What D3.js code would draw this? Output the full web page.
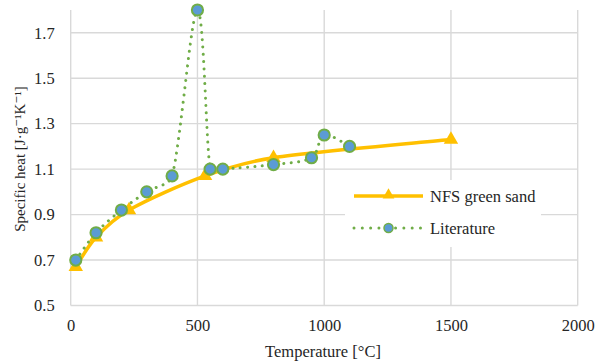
<!DOCTYPE html>
<html><head><meta charset="utf-8">
<script src="https://cdn.jsdelivr.net/npm/d3@7"></script>
<style>body{margin:0;background:#fff}svg{display:block}</style>
</head><body><svg id="c" width="597" height="362"></svg>
<script>
const nfsT = [20, 100, 230, 530, 800, 1500];
const nfsV = [0.67, 0.80, 0.92, 1.07, 1.15, 1.23];
const litT = [20, 100, 200, 300, 400, 500, 550, 600, 800, 950, 1000, 1100];
const litV = [0.70, 0.82, 0.92, 1.00, 1.07, 1.80, 1.10, 1.10, 1.12, 1.15, 1.25, 1.20];
const xTicks = [0, 500, 1000, 1500, 2000];
const yTicks = [0.5, 0.7, 0.9, 1.1, 1.3, 1.5, 1.7];
const seriesNames = ["NFS green sand", "Literature"];

const FONT = "'Liberation Serif', 'DejaVu Serif', serif";
const TXT = "#262626";
const svg = d3.select("#c");
const x = d3.scaleLinear().domain([0, 2000]).range([70.7, 577.7]);
const y = d3.scaleLinear().domain([0.5, 1.8]).range([305.5, 10]);
const grid = "#d9d9d9";

// Excel-like smoothing: Catmull-Rom handles, clamped on short segments
function SmoothCurve(context) { this._context = context; }
SmoothCurve.prototype = {
  areaStart() { this._line = 0; }, areaEnd() { this._line = NaN; },
  lineStart() { this._pts = []; },
  point(px, py) { this._pts.push([+px, +py]); },
  lineEnd() {
    const p = this._pts, n = p.length, c = this._context, k = 0.34;
    if (!n) return;
    c.moveTo(p[0][0], p[0][1]);
    const clamp = (t, m) => { const l = Math.hypot(t[0], t[1]); return l > m ? [t[0] * m / l, t[1] * m / l] : t; };
    for (let i = 0; i < n - 1; i++) {
      const p0 = p[Math.max(i - 1, 0)], p1 = p[i], p2 = p[i + 1], p3 = p[Math.min(i + 2, n - 1)];
      const seg = Math.hypot(p2[0] - p1[0], p2[1] - p1[1]);
      const t1 = clamp([(p2[0] - p0[0]) / 6, (p2[1] - p0[1]) / 6], k * seg);
      const t2 = clamp([(p3[0] - p1[0]) / 6, (p3[1] - p1[1]) / 6], k * seg);
      c.bezierCurveTo(p1[0] + t1[0], p1[1] + t1[1], p2[0] - t2[0], p2[1] - t2[1], p2[0], p2[1]);
    }
  }
};
const smooth = ctx => new SmoothCurve(ctx);

// gridlines
svg.append("g").selectAll("line").data(yTicks).join("line")
  .attr("x1", x(0)).attr("x2", x(2000)).attr("y1", d => y(d)).attr("y2", d => y(d))
  .attr("stroke", grid).attr("stroke-width", 1.4);
svg.append("g").selectAll("line").data(xTicks).join("line")
  .attr("x1", d => x(d)).attr("x2", d => x(d)).attr("y1", y(1.8)).attr("y2", y(0.5))
  .attr("stroke", grid).attr("stroke-width", 1.4);

// axes
const xa = svg.append("g").attr("transform", `translate(0,${y(0.5)})`)
  .call(d3.axisBottom(x).tickValues(xTicks).tickSize(0).tickPadding(14).tickFormat(d3.format("d")));
xa.select(".domain").remove();
xa.selectAll("text").style("font-size", "16.5px").style("font-family", FONT).style("fill", TXT);
const ya = svg.append("g").attr("transform", `translate(${x(0)},0)`)
  .call(d3.axisLeft(y).tickValues(yTicks).tickSize(0).tickPadding(16).tickFormat(d3.format(".1f")));
ya.select(".domain").remove();
ya.selectAll("text").style("font-size", "16.5px").style("font-family", FONT).style("fill", TXT);

svg.append("text").attr("x", 323).attr("y", 357).attr("text-anchor", "middle")
  .style("font-size", "16.5px").style("font-family", FONT).style("fill", TXT).text("Temperature [°C]");
svg.append("text").attr("transform", "translate(25,159) rotate(-90)").attr("text-anchor", "middle")
  .style("font-size", "15px").style("font-family", FONT).style("fill", TXT).text("Specific heat [J·g⁻¹K⁻¹]");

const nfs = nfsT.map((t, i) => [t, nfsV[i]]);
const lit = litT.map((t, i) => [t, litV[i]]);
const line = d3.line().x(d => x(d[0])).y(d => y(d[1])).curve(smooth);

svg.append("path").attr("d", line(nfs)).attr("fill", "none")
  .attr("stroke", "#FFC000").attr("stroke-width", 3.5).attr("stroke-linejoin", "round");
const tri = d3.symbol().type(d3.symbolTriangle).size(90);
svg.append("g").selectAll("path").data(nfs).join("path")
  .attr("d", tri).attr("transform", d => `translate(${x(d[0])},${y(d[1])})`).attr("fill", "#FFC000");

svg.append("path").attr("d", line(lit)).attr("fill", "none")
  .attr("stroke", "#70AD47").attr("stroke-width", 3).attr("stroke-linecap", "round")
  .attr("stroke-dasharray", "0.01 7.3");
svg.append("g").selectAll("circle").data(lit).join("circle")
  .attr("cx", d => x(d[0])).attr("cy", d => y(d[1])).attr("r", 5.6)
  .attr("fill", "#5B9BD5").attr("stroke", "#70AD47").attr("stroke-width", 2);

// legend
const lg = svg.append("g");
lg.append("rect").attr("x", 345).attr("y", 180).attr("width", 196).attr("height", 67).attr("fill", "#fff");
const ly = [196, 228];
lg.append("line").attr("x1", 354).attr("x2", 423).attr("y1", ly[0]).attr("y2", ly[0])
  .attr("stroke", "#FFC000").attr("stroke-width", 3.5);
lg.append("path").attr("d", d3.symbol().type(d3.symbolTriangle).size(60)).attr("transform", `translate(388.5,${ly[0] - 1})`).attr("fill", "#FFC000");
lg.append("line").attr("x1", 354).attr("x2", 423).attr("y1", ly[1]).attr("y2", ly[1])
  .attr("stroke", "#70AD47").attr("stroke-width", 3).attr("stroke-linecap", "round")
  .attr("stroke-dasharray", "0.01 8.3");
lg.append("circle").attr("cx", 388.5).attr("cy", ly[1]).attr("r", 4.5)
  .attr("fill", "#5B9BD5").attr("stroke", "#70AD47").attr("stroke-width", 1.5);
lg.selectAll("text.l").data(seriesNames).join("text").attr("class", "l")
  .attr("x", 430).attr("y", (d, i) => ly[i] + 5.5)
  .style("font-size", "16.5px").style("font-family", FONT).style("fill", TXT).text(d => d);
</script></body></html>
